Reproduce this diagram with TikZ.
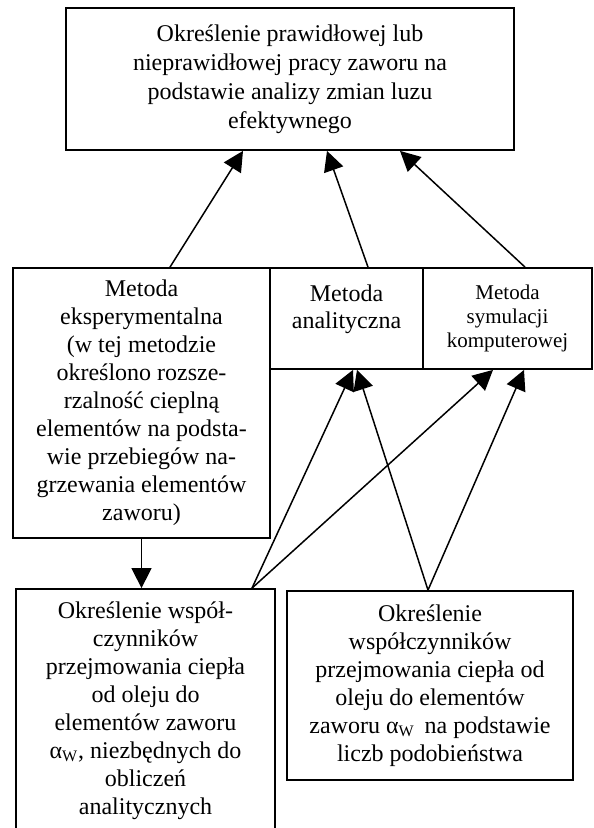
\documentclass[tikz,border=0pt]{standalone}
\usepackage{fontspec}
\setmainfont{Liberation Serif}
\usetikzlibrary{arrows.meta,positioning,calc}

\begin{document}
\begin{tikzpicture}[
    x=0.5pt,y=-0.5pt,
    >={Triangle[length=10pt,width=10pt]},
    box/.style={rectangle,draw,line width=0.9pt,align=center,inner sep=0pt,
      font=\fontsize{12}{14}\selectfont},
    arr/.style={->,line width=0.75pt}]
  \useasboundingbox (0,0) rectangle (593,828);
  % ---- top: goal of the analysis ----
  \node[box,minimum width=224pt,minimum height=71pt,
        font=\fontsize{12}{14.5}\selectfont] (goal) at (290,79)
    {Określenie prawidłowej lub\\nieprawidłowej pracy zaworu na\\podstawie analizy zmian luzu\\efektywnego};
  % ---- middle row: the three methods ----
  \node[box,minimum width=128.5pt,minimum height=135pt] (exp) at (141.5,403)
    {Metoda\\eksperymentalna\\(w tej metodzie\\określono rozsze-\\rzalność cieplną\\elementów na podsta-\\wie przebiegów na-\\grzewania elementów\\zaworu)};
  \node[box,minimum width=76.5pt,minimum height=50.5pt,
        label={[font=\fontsize{12}{13.5}\selectfont,align=center,anchor=north,yshift=-5.5pt]north:{Metoda\\analityczna}}]
    (anal) at (346.5,318.5) {};
  \node[box,minimum width=84.5pt,minimum height=50.5pt,
        font=\fontsize{10.5}{12}\selectfont] (sym) at (507.5,318.5)
    {Metoda\\symulacji\\komputerowej};
  % ---- bottom row: heat transfer coefficients ----
  \node[box,minimum width=129.5pt,minimum height=121.5pt] (wsp) at (145.5,710.5)
    {Określenie współ-\\czynników\\przejmowania ciepła\\od oleju do\\elementów zaworu\\α\textsubscript{W}, niezbędnych do\\obliczeń\\analitycznych};
  \node[box,minimum width=143pt,minimum height=94.5pt] (lic) at (430,685.5)
    {Określenie\\współczynników\\przejmowania ciepła od\\oleju do elementów\\zaworu α\textsubscript{W}\, na podstawie\\liczb podobieństwa};
  % free ends on the box borders
  \coordinate (wspT) at ($(wsp.north)+(106.5,0)$);
  \coordinate (licT) at ($(lic.north)+(-2,0)$);
  % methods -> goal
  \draw[arr] ($(exp.north)+(28.5,0)$) -- ($(goal.south)+(-47,0)$);
  \draw[arr] ($(anal.north)+(21.5,0)$) -- ($(goal.south)+(37,0)$);
  \draw[arr] ($(sym.north)+(17.5,0)$) -- ($(goal.south)+(110,0)$);
  % experiment -> coefficients
  \draw[arr] (exp.south) -- (exp.south |- wsp.north);
  % coefficients -> methods
  \draw[arr] (wspT) -- ($(anal.south)+(6.5,0)$);
  \draw[arr] (wspT) -- ($(sym.south)+(-14.5,0)$);
  \draw[arr] (licT) -- ($(anal.south)+(10.5,0)$);
  \draw[arr] (licT) -- ($(sym.south)+(16.5,0)$);
\end{tikzpicture}
\end{document}
